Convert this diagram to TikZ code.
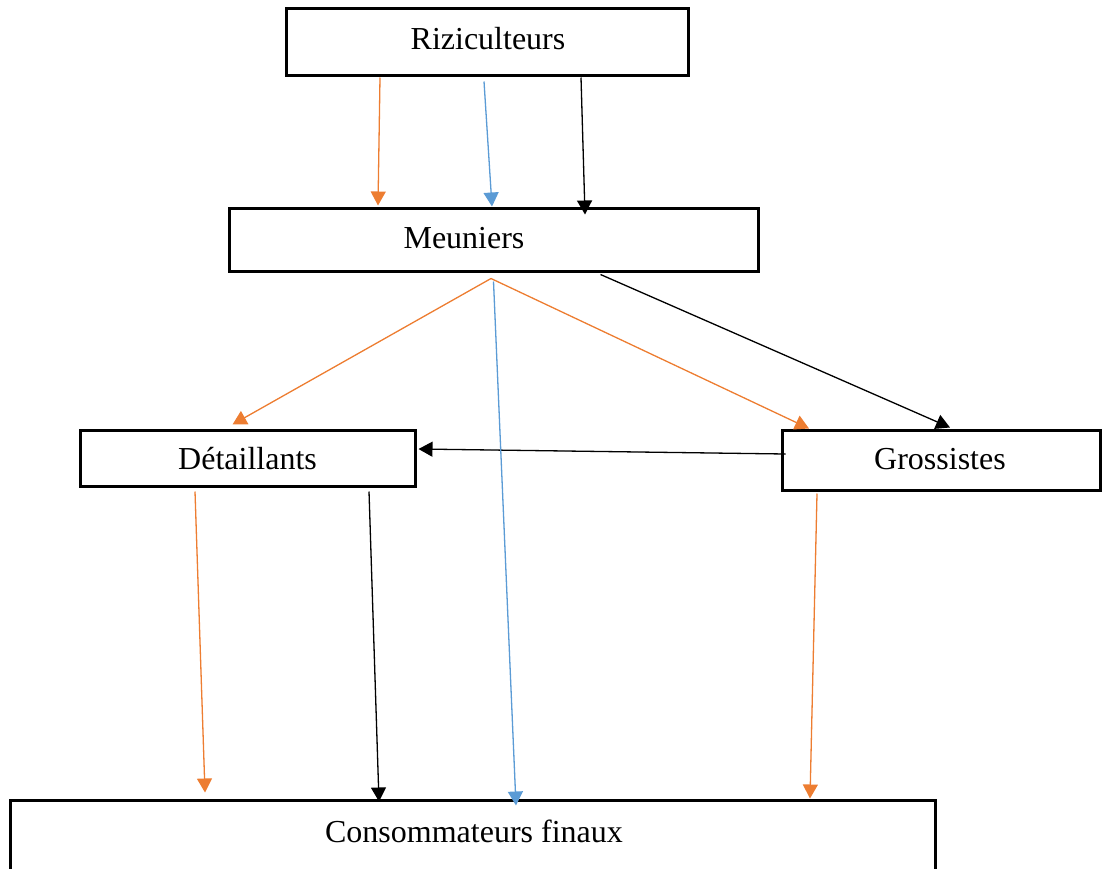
\documentclass[tikz,border=0pt]{standalone}
\usepackage{fontspec}
\setmainfont{Liberation Serif}
\usetikzlibrary{arrows.meta,calc}
\definecolor{flowOrange}{HTML}{ED7D31}
\definecolor{flowBlue}{HTML}{5B9BD5}
\tikzset{
  box/.style={draw=black, line width=1.5pt, fill=white, inner sep=0pt,
              font=\fontsize{16}{19}\selectfont},
  lbl/.style={inner sep=0pt, font=\fontsize{16}{19}\selectfont},
  flow/.style={line width=0.65pt, -{Triangle[length=7pt,width=7.5pt]}},
  orangeflow/.style={flow, draw=flowOrange, fill=flowOrange},
  blueflow/.style={flow, draw=flowBlue, fill=flowBlue},
  blackflow/.style={flow, draw=black, fill=black},
}
\begin{document}
\begin{tikzpicture}[x=0.5pt, y=-0.5pt]
  \useasboundingbox (0,0) rectangle (1102,868);
  \clip (0,0) rectangle (1102,868);

  % actors of the rice chain
  \node[box, minimum width=201pt, minimum height=33.5pt] (riz) at (487,41.5) {};
  \node[lbl] (riz-t) at (488,39) {Riziculteurs};
  \node[box, minimum width=264.5pt, minimum height=31.5pt] (meu) at (493.5,239.5) {};
  \node[lbl] (meu-t) at (464,238.5) {Meuniers};
  \node[box, minimum width=167.5pt, minimum height=28pt] (det) at (247.5,458) {};
  \node[lbl] (det-t) at (247.5,459) {Détaillants};
  \node[box, minimum width=159pt, minimum height=30pt] (gro) at (941,460) {};
  \node[lbl] (gro-t) at (940,459) {Grossistes};
  \node[box, minimum width=462.5pt, minimum height=40pt] (con) at (472.5,840) {};
  \node[lbl] (con-t) at (474,831) {Consommateurs finaux};

  % Riziculteurs -> Meuniers
  \draw[orangeflow] ($(riz.south)+(-107,1)$) -- ($(meu.north)+(-115.5,-1)$);
  \draw[blueflow]   ($(riz.south)+(-3,5)$)   -- ($(meu.north)+(-1.5,0)$);
  \draw[blackflow]  ($(riz.south)+(94,1)$)   -- ($(meu.north)+(91.5,8)$);

  % Meuniers -> Détaillants / Grossistes
  \draw[orangeflow] ($(meu.south)+(-2.5,6)$) -- ($(det.north)+(-15,-4)$);
  \draw[orangeflow] ($(meu.south)+(-2.5,6)$) -- ($(gro.north)+(-132,0)$);
  \draw[blackflow]  ($(meu.south)+(107,2)$)  -- ($(gro.north)+(9,-1)$);

  % Grossistes -> Détaillants
  \draw[blackflow]  ($(gro.west)+(5,-6)$) -- ($(det.east)+(2,-9)$);

  % flows reaching the final consumers
  \draw[blueflow]   ($(meu.south)+(0,9)$)      -- ($(con.north)+(43.5,7)$);
  \draw[orangeflow] ($(det.south)+(-52.5,4)$)  -- ($(con.north)+(-267.5,-6)$);
  \draw[blackflow]  ($(det.south)+(121.5,4)$)  -- ($(con.north)+(-93.5,3)$);
  \draw[orangeflow] ($(gro.south)+(-124,2)$)   -- ($(con.north)+(337.5,0)$);
\end{tikzpicture}
\end{document}
